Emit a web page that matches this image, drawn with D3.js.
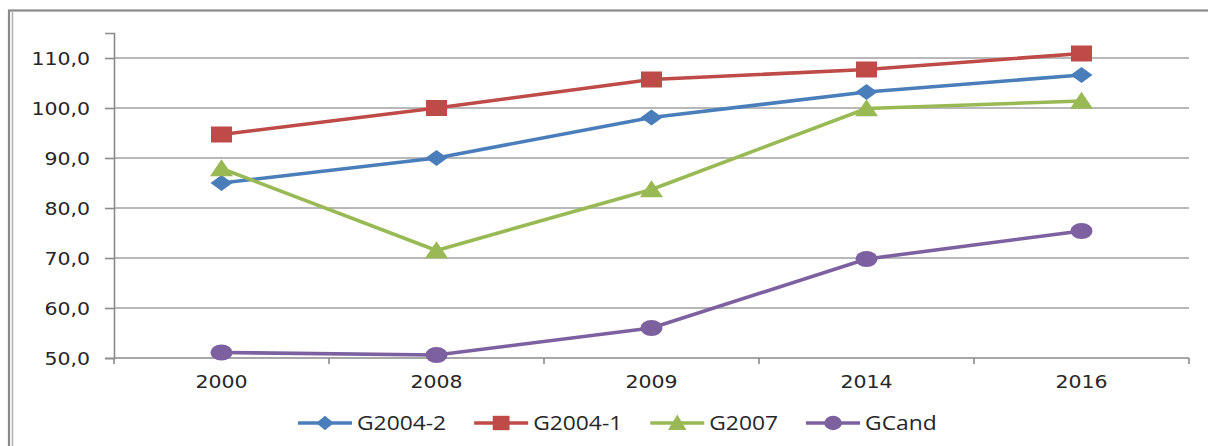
<!DOCTYPE html>
<html><head><meta charset="utf-8">
<script src="https://cdn.jsdelivr.net/npm/d3@7"></script>
<style>html,body{margin:0;padding:0;background:#fff;}svg{display:block;}</style>
</head><body>
<svg id="c" width="1208" height="446"></svg>
<script>
const categories = ["2000","2008","2009","2014","2016"];
const seriesNames = ["G2004-2","G2004-1","G2007","GCand"];
const g2004_2 = [85.0, 90.0, 98.1, 103.2, 106.6];
const g2004_1 = [94.7, 100.0, 105.7, 107.7, 110.9];
const g2007 = [87.9, 71.5, 83.7, 99.9, 101.4];
const gcand = [51.1, 50.6, 56.0, 69.8, 75.4];
const yTicks = [50,60,70,80,90,100,110];
const colors = ["#4a7ebb","#be4b48","#98b954","#7d60a0"];
const shapes = ["diamond","square","triangle","circle"];
const values = [g2004_2, g2004_1, g2007, gcand];

(function(){
const svg = d3.select("#c");
const SX = 1.17;
const fmt = v => d3.format(".1f")(v).replace(".", ",");

// outer frame
svg.append("rect").attr("x",9).attr("y",10.5).attr("width",1230).attr("height",460)
  .attr("fill","none").attr("stroke","#8a8a8a").attr("stroke-width",2.2);
svg.append("line").attr("x1",12.5).attr("x2",12.5).attr("y1",12).attr("y2",446)
  .attr("stroke","#b0b0b0").attr("stroke-width",1.5);

const pl = 114, pr = 1189, pt = 33, pb = 358;
const x = d3.scalePoint().domain(categories).range([pl,pr]).padding(0.5);
const y = d3.scaleLinear().domain([50,115]).range([pb,pt]);

// gridlines
svg.append("g").selectAll("line").data(yTicks.filter(d=>d>50)).join("line")
  .attr("x1",pl).attr("x2",pr).attr("y1",d=>y(d)).attr("y2",d=>y(d))
  .attr("stroke","#a0a0a0").attr("stroke-width",1.6);

// y axis
const yAxis = svg.append("g").attr("transform",`translate(${pl},0)`)
  .call(d3.axisLeft(y).tickValues(yTicks).tickSize(9).tickPadding(0).tickFormat(fmt));
yAxis.select(".domain").attr("stroke","#8a8a8a").attr("stroke-width",1.6);
yAxis.selectAll(".tick line").attr("stroke","#8a8a8a").attr("stroke-width",1.6);
yAxis.selectAll(".tick text").attr("x",null).attr("dy","0.36em")
  .attr("transform",`translate(-24,0) scale(${SX},1)`)
  .attr("font-family","DejaVu Sans").attr("font-size",17.5).attr("fill","#262626");

// x axis
const xb = d3.scaleLinear().domain([0,categories.length]).range([pl,pr]);
const xAxis = svg.append("g").attr("transform",`translate(0,${pb})`);
xAxis.append("line").attr("x1",pl).attr("x2",pr).attr("stroke","#8a8a8a").attr("stroke-width",1.6);
xAxis.selectAll("line.tk").data(d3.range(categories.length+1)).join("line").attr("class","tk")
  .attr("x1",d=>xb(d)).attr("x2",d=>xb(d)).attr("y1",0).attr("y2",6)
  .attr("stroke","#8a8a8a").attr("stroke-width",1.6);
xAxis.selectAll("text").data(categories).join("text")
  .attr("transform",d=>`translate(${x(d)},30) scale(${SX},1)`)
  .attr("text-anchor","middle").attr("font-family","DejaVu Sans").attr("font-size",17.5).attr("fill","#262626")
  .text(d=>d);

function marker(sel, shape, w, h, color){
  if(shape==="circle"){
    sel.append("ellipse").attr("rx",w/2).attr("ry",h/2).attr("fill",color);
  } else if(shape==="square"){
    sel.append("rect").attr("x",-w/2).attr("y",-h/2).attr("width",w).attr("height",h).attr("fill",color);
  } else if(shape==="diamond"){
    sel.append("path").attr("d",`M${-w/2},0L0,${-h/2}L${w/2},0L0,${h/2}Z`).attr("fill",color);
  } else {
    sel.append("path").attr("d",`M0,${-h*0.55}L${w/2},${h*0.45}L${-w/2},${h*0.45}Z`).attr("fill",color);
  }
}
const msize = {diamond:[22,16], square:[21,16], triangle:[23,17], circle:[22,16]};

const line = d3.line().x((d,i)=>x(categories[i])).y(d=>y(d));
values.forEach((vals,si)=>{
  const g = svg.append("g");
  g.append("path").datum(vals).attr("d",line).attr("fill","none")
    .attr("stroke",colors[si]).attr("stroke-width",3.6).attr("stroke-linejoin","round");
  vals.forEach((v,i)=>{
    const m = g.append("g").attr("transform",`translate(${x(categories[i])},${y(v)})`);
    marker(m, shapes[si], msize[shapes[si]][0], msize[shapes[si]][1], colors[si]);
  });
});

// legend
const lg = svg.append("g").attr("transform","translate(0,423)");
let cx = 298;
seriesNames.forEach((name,si)=>{
  const it = lg.append("g");
  it.append("line").attr("x1",cx).attr("x2",cx+54).attr("stroke",colors[si]).attr("stroke-width",3.6);
  const m = it.append("g").attr("transform",`translate(${cx+27},0)`);
  const s = msize[shapes[si]];
  marker(m, shapes[si], s[0]*0.8, s[1]*0.9, colors[si]);
  const t = it.append("text").attr("transform",`translate(${cx+59},0) scale(1.17,1)`)
    .attr("dy","0.36em").attr("font-family","Open Sans").attr("font-size",19.5).attr("fill","#262626").text(name);
  const w = t.node().getComputedTextLength()*1.17;
  cx = cx + 59 + w + 28;
});
})();
</script>
</body></html>
